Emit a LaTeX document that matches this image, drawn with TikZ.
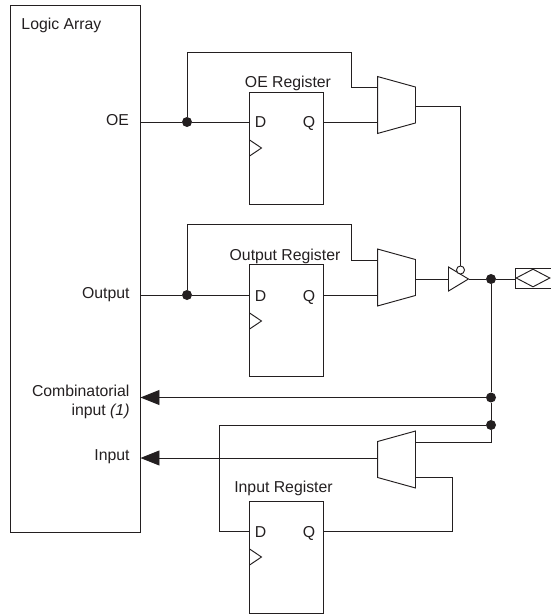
\documentclass[tikz,border=0pt]{standalone}
\usepackage{fontspec}
\setmainfont{Liberation Sans}
\usetikzlibrary{shapes.geometric,arrows.meta,positioning,calc}
\definecolor{inkblack}{HTML}{231F20}

\begin{document}
\begin{tikzpicture}[
    x=1pt, y=-1pt,
    %---- GLOBAL STYLE TWEAKS ----
    font=\fontsize{15.8}{18.5}\selectfont,
    color=inkblack,
    line width=0.95pt,
    array/.style = {rectangle, draw, minimum width=130pt, minimum height=526.5pt, inner sep=0pt},
    regbox/.style = {rectangle, draw, minimum width=74pt, minimum height=112pt, inner sep=0pt},
    mux/.style = {rectangle, minimum width=37pt, minimum height=56pt, inner sep=0pt},
    junction/.style = {circle, fill, inner sep=0pt, minimum size=10pt},
    buffer/.style = {isosceles triangle, draw, isosceles triangle apex angle=62,
                     minimum height=20pt, inner sep=0pt},
    bubble/.style = {circle, draw, fill=white, inner sep=0pt, minimum size=8pt},
    pad/.style = {rectangle, draw, minimum width=36pt, minimum height=20pt, inner sep=0pt},
    padmark/.style = {diamond, draw, aspect=1.9, minimum width=34pt, minimum height=18pt, inner sep=0pt},
    clk/.style = {isosceles triangle, draw, isosceles triangle apex angle=68,
                  minimum height=12pt, inner sep=0pt},
    sig/.style = {anchor=base east, inner sep=0pt, align=right},
    pin/.style = {anchor=base, inner sep=0pt},
    arrow/.style = {-{Triangle[length=19pt,width=15pt]}},
]
\useasboundingbox (0,0) rectangle (550,615);
%---- MAIN BLOCKS ----
\node (logic)   [array] at (75,268.75) {};
\node (oe_reg)  [regbox] at (286,148) {};
\node (out_reg) [regbox] at (286,320.5) {};
\node (in_reg)  [regbox] at (286,557) {};

\node (oe_mux)  [mux] at (396.5,105) {};
\node (out_mux) [mux] at (396.5,277.5) {};
\node (in_mux)  [mux] at (396.5,459.5) {};
\foreach \m in {oe_mux, out_mux}
  \draw (\m.north west) -- ($(\m.north east)+(0,10.5)$) -- ($(\m.south east)+(0,-10.5)$) -- (\m.south west) -- cycle;
\draw ($(in_mux.north west)+(0,10.5)$) -- (in_mux.north east) -- (in_mux.south east) -- ($(in_mux.south west)+(0,-10.5)$) -- cycle;

\node (driver)  [buffer, anchor=lower side] at (448,279) {};
\node (enable)  [bubble] at (460.5,270) {};
\node (io_pad)  [pad]   at (533,278) {};
\node (io_mark) [padmark] at (533,278) {};

%---- LABELS ----
\node (logic_txt) [pin, anchor=base west] at (21,30) {Logic Array};
\node (oe_txt)    [sig] at (129.5,125.5) {OE};
\node (out_txt)   [sig] at (130,298.5) {Output};
\node (comb_txt)  [sig] at (130,396.7) {Combinatorial};
\node (comb_sub)  [sig] at (130,415) {input \textit{(1)}};
\node (in_txt)    [sig] at (130,460.7) {Input};
\node (oe_name)   [pin] at (288,87.3)  {OE Register};
\node (out_name)  [pin] at (285,260) {Output Register};
\node (in_name)   [pin] at (283.5,492.7) {Input Register};

\foreach \r/\y in {oe_reg/122, out_reg/295, in_reg/531} {
  \node (\r_d) [pin] at (260.5,\y+6) {D};
  \node (\r_q) [pin] at (309,\y+6) {Q};
  \node (\r_clk) [clk, anchor=lower side] at (249,\y+26) {};
}

%---- JUNCTIONS ----
\node (oe_dot)   [junction] at (187,122) {};
\node (out_dot)  [junction] at (187,295) {};
\node (pad_dot)  [junction] at (491,279) {};
\node (comb_dot) [junction] at (491,397.5) {};
\node (in_dot)   [junction] at (491,425) {};

%---- BEND POINTS ----
\coordinate (oe_bend)   at (351,52);
\coordinate (out_bend)  at (351,224);
\coordinate (in_bend)   at (219,425);
\coordinate (in_back)   at (452,477);
\coordinate (oe_en)     at (460.5,106);

%---- WIRES ----
\draw (logic.east |- oe_dot) -- (oe_dot) -- (oe_reg.west |- oe_dot);
\draw (logic.east |- out_dot) -- (out_dot) -- (out_reg.west |- out_dot);
\draw (oe_dot) |- (oe_bend) |- (oe_mux.west |- 0,87.5);
\draw (out_dot) |- (out_bend) |- (out_mux.west |- 0,260);
\draw (oe_reg.east |- oe_dot) -- (oe_mux.west |- oe_dot);
\draw (out_reg.east |- out_dot) -- (out_mux.west |- out_dot);
\draw (oe_mux.east |- oe_en) -- (oe_en) -- (enable);
\draw (out_mux.east |- pad_dot) -- (driver.west |- pad_dot);
\draw (driver.east |- pad_dot) -- (pad_dot) -- (io_pad.west |- pad_dot);
\draw (pad_dot) -- (comb_dot);
\draw (comb_dot) -- (in_dot);
\draw (in_dot) |- (in_mux.east |- 0,442);
\draw[arrow] (comb_dot) -- (logic.east |- comb_dot);
\draw[arrow] (in_mux.west |- 0,458) -- (logic.east |- 0,458);
\draw (in_dot) -- (in_bend) |- (in_reg.west |- 0,531);
\draw (in_mux.east |- in_back) -- (in_back) |- (in_reg.east |- 0,531);
\end{tikzpicture}
\end{document}
